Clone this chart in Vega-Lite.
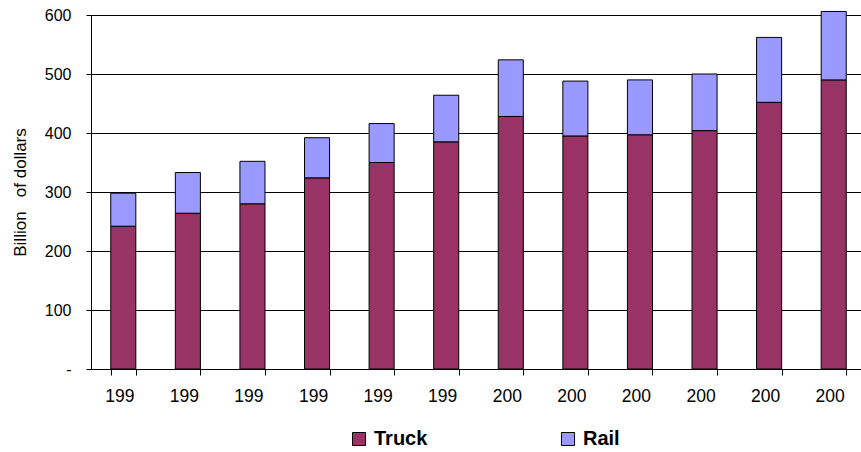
{
  "$schema": "https://vega.github.io/schema/vega-lite/v6.json",
  "width": 775,
  "height": 354,
  "autosize": {"type": "none"},
  "padding": {"left": 91, "top": 15, "right": -5, "bottom": 83},
  "background": "white",
  "config": {
    "view": {"stroke": null},
    "font": "Liberation Sans"
  },
  "data": {
    "values": [
      {"year": "1994", "mode": "Truck", "k": 0, "value": 242},
      {"year": "1994", "mode": "Rail", "k": 1, "value": 56},
      {"year": "1995", "mode": "Truck", "k": 0, "value": 264},
      {"year": "1995", "mode": "Rail", "k": 1, "value": 69},
      {"year": "1996", "mode": "Truck", "k": 0, "value": 280},
      {"year": "1996", "mode": "Rail", "k": 1, "value": 72},
      {"year": "1997", "mode": "Truck", "k": 0, "value": 324},
      {"year": "1997", "mode": "Rail", "k": 1, "value": 68},
      {"year": "1998", "mode": "Truck", "k": 0, "value": 350},
      {"year": "1998", "mode": "Rail", "k": 1, "value": 66},
      {"year": "1999", "mode": "Truck", "k": 0, "value": 385},
      {"year": "1999", "mode": "Rail", "k": 1, "value": 79},
      {"year": "2000", "mode": "Truck", "k": 0, "value": 428},
      {"year": "2000", "mode": "Rail", "k": 1, "value": 96},
      {"year": "2001", "mode": "Truck", "k": 0, "value": 395},
      {"year": "2001", "mode": "Rail", "k": 1, "value": 93},
      {"year": "2002", "mode": "Truck", "k": 0, "value": 397},
      {"year": "2002", "mode": "Rail", "k": 1, "value": 93},
      {"year": "2003", "mode": "Truck", "k": 0, "value": 404},
      {"year": "2003", "mode": "Rail", "k": 1, "value": 96},
      {"year": "2004", "mode": "Truck", "k": 0, "value": 452},
      {"year": "2004", "mode": "Rail", "k": 1, "value": 110},
      {"year": "2005", "mode": "Truck", "k": 0, "value": 490},
      {"year": "2005", "mode": "Rail", "k": 1, "value": 116}
    ]
  },
  "mark": {"type": "bar", "stroke": "#000000", "strokeWidth": 1},
  "encoding": {
    "x": {
      "field": "year",
      "type": "nominal",
      "scale": {"paddingInner": 0.612, "paddingOuter": 0.306},
      "axis": {
        "title": null,
        "labelAngle": 0,
        "labelExpr": "slice(datum.label, 0, 3)",
        "labelFont": "Liberation Sans",
        "labelFontSize": 17.5,
        "labelColor": "#000000",
        "labelPadding": 12,
        "labelOffset": -4,
        "tickBand": "extent",
        "tickColor": "#000000",
        "tickSize": 6,
        "domainColor": "#000000",
        "grid": false
      }
    },
    "y": {
      "field": "value",
      "type": "quantitative",
      "stack": "zero",
      "scale": {"domain": [0, 600], "nice": false},
      "axis": {
        "title": "Billion\u00a0\u00a0\u00a0of dollars",
        "titleFont": "Liberation Sans",
        "titleFontSize": 17,
        "titleFontWeight": "normal",
        "titleColor": "#000000",
        "titlePadding": 15,
        "values": [0, 100, 200, 300, 400, 500, 600],
        "labelExpr": "datum.value == 0 ? '-' : datum.label",
        "labelFont": "Liberation Sans",
        "labelFontSize": 16,
        "labelColor": "#000000",
        "labelPadding": 15,
        "tickColor": "#000000",
        "tickSize": 5,
        "domainColor": "#000000",
        "grid": true,
        "gridColor": "#000000",
        "gridWidth": 1
      }
    },
    "color": {
      "field": "mode",
      "type": "nominal",
      "scale": {"domain": ["Truck", "Rail"], "range": ["#993366", "#9999FF"]},
      "legend": {
        "title": null,
        "orient": "none",
        "direction": "horizontal",
        "legendX": 258,
        "legendY": 414,
        "symbolType": "square",
        "symbolSize": 169,
        "symbolStrokeColor": "#000000",
        "symbolStrokeWidth": 1,
        "labelFont": "Liberation Sans",
        "labelFontSize": 20,
        "labelFontWeight": "bold",
        "labelColor": "#000000",
        "labelOffset": 5,
        "columnPadding": 130
      }
    },
    "order": {"field": "k", "type": "quantitative"}
  }
}
